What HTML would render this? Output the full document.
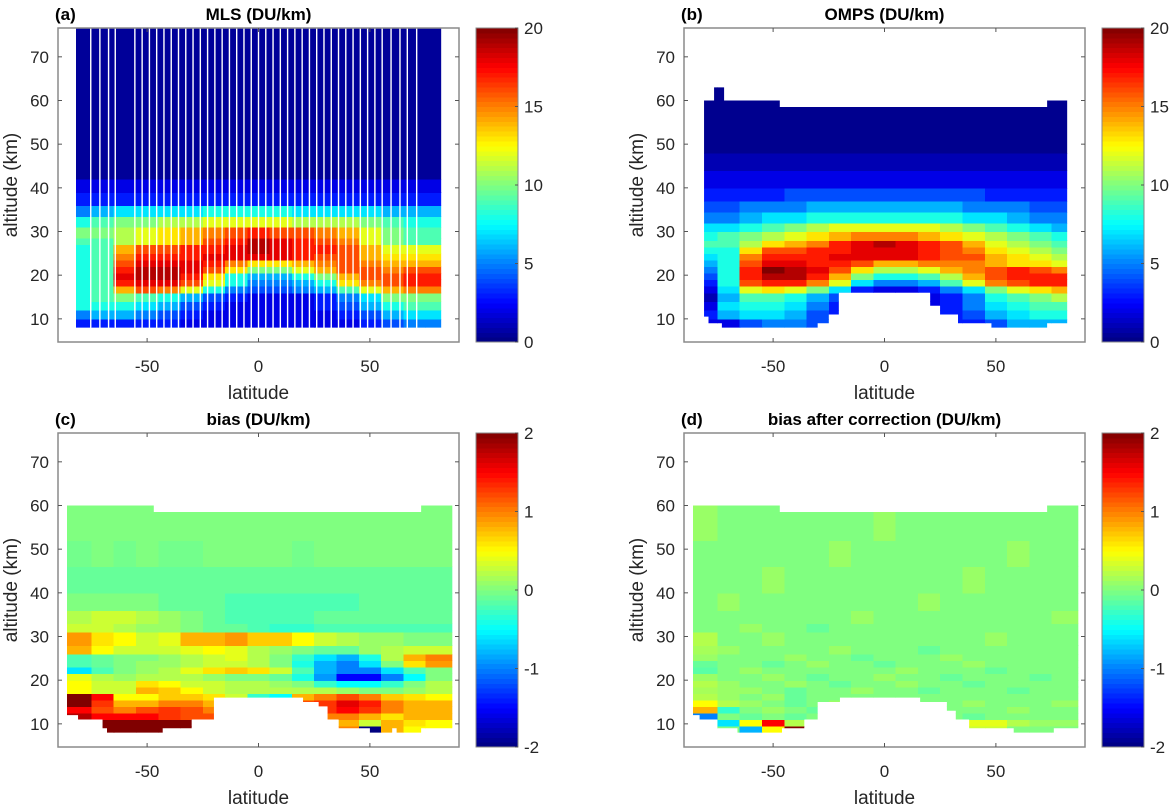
<!DOCTYPE html>
<html><head><meta charset="utf-8">
<style>
html,body{margin:0;padding:0;background:#fff;}
svg{display:block;font-family:"Liberation Sans",Arial,sans-serif;}
.tk{font-size:17px;fill:#262626;}
.ttl{font-size:17px;font-weight:bold;fill:#000;}
.lab{font-size:19px;fill:#262626;}
</style></head>
<body>
<svg id="fig" width="1172" height="807" viewBox="0 0 1172 807" xmlns="http://www.w3.org/2000/svg"></svg>
<script>
// ---------- data ----------
const latCenters=[-80,-70,-60,-50,-40,-30,-20,-10,0,10,20,30,40,50,60,70,80];
const xTicks=[-50,0,50];
const yTicks=[10,20,30,40,50,60,70];
const cbTicksA=[0,5,10,15,20];
const cbTicksC=[-2,-1,0,1,2];

const aAltEdges=[8,10,12,14,16,17.5,19,20.5,22,23.5,25,27,28.5,31,33.5,36,39,42,77];
const aValues=[
[3,3,3,3,3,2,2,2,2,2,2,2,2,3,4,5,5],
[5,6,6,5,4,3,2,2,2,2,2,2,3,4,6,7,7],
[8,8,8,7,6,4,3,2,2,2,2,3,4,6,8,9,9],
[8,9,10,9,8,6,4,3,2,2,2,3,5,7,10,10,10],
[8,9,14,16,15,12,8,5,4,4,5,6,9,12,14,15,15],
[8,9,17,18,18,16,12,8,5,5,6,8,13,15,16,17,17],
[8,9,18,19,19,17,13,8,6,6,8,10,14,16,16,17,17],
[8,9,17,19,19,18,16,13,10,10,12,14,16,16,15,16,16],
[8,9,16,18,18,18,17,15,13,13,14,15,16,15,14,14,14],
[8,9,15,17,17,17,18,18,18,18,17,16,16,14,13,13,13],
[8,9,14,16,16,17,17,18,19,18,17,17,16,14,12,12,12],
[9,9,11,12,13,14,16,17,19,18,17,16,15,12,10,9,9],
[10,10,11,12,13,14,15,16,17,16,16,15,14,12,10,9,9],
[8,9,10,10,11,11,12,12,12,12,11,11,11,10,9,8,8],
[5,6,7,7,7,7,8,8,8,8,7,7,7,7,6,6,6],
[3,3,3,3,3,3,3,3,3,3,3,3,3,3,3,3,3],
[2,2,2,2,2,2,2,2,2,2,2,2,2,2,2,2,2],
[0.5,0.5,0.5,0.5,0.5,0.5,0.5,0.5,0.5,0.5,0.5,0.5,0.5,0.5,0.5,0.5,0.5]];
const mlsGapLeft=[-75.3,-71.2,-67.3,-64.3];
const mlsGapRight=[59.5,63.5,66.8,71];

const bAltEdges=[7,10,12,14,16,17.5,19,20.5,22,23.5,25,26.5,28,30,32,34.5,37,40,44,48,64];
const bValues=[
[2,2,4,5,5,4,3,2,2,2,2,3,3,4,6,6,6],
[3,6,7,7,6,4,3,2,2,2,2,3,4,6,7,8,8],
[2,7,8,8,7,5,3,2,2,2,2,3,5,7,8,9,9],
[1,6,9,9,8,6,4,2,2,2,2,3,5,8,9,10,11],
[2,7,12,13,12,10,7,3,2,2,3,5,7,10,12,13,14],
[3,8,16,17,17,15,12,7,5,5,6,9,12,15,16,17,17],
[4,8,17,19,19,17,14,10,8,8,9,11,14,16,17,17,17],
[5,8,17,20,19,18,16,13,11,11,12,14,15,16,17,16,15],
[6,8,16,18,18,17,17,16,14,14,15,15,15,14,13,13,12],
[7,8,15,17,17,17,18,18,18,18,17,16,16,14,13,12,11],
[8,8,13,16,16,17,17,18,18,18,17,16,15,13,12,11,10],
[9,9,11,13,14,15,17,18,19,18,17,16,14,12,11,10,9],
[8,9,10,11,12,13,14,15,15,15,14,13,12,11,10,9,8],
[7,7,8,9,10,11,12,12,12,12,12,11,10,9,8,7,6],
[5,5,6,7,7,8,8,8,8,8,8,8,7,7,6,5,5],
[4,4,5,5,5,6,6,6,6,6,6,6,5,5,5,4,4],
[3,3,3,3,4,4,4,4,4,4,4,4,4,3,3,3,3],
[2,2,2,2,2,2,2,2,2,2,2,2,2,2,2,2,2],
[1,1,1,1,1,1,1,1,1,1,1,1,1,1,1,1,1],
[0.3,0.3,0.3,0.3,0.3,0.3,0.3,0.3,0.3,0.3,0.3,0.3,0.3,0.3,0.3,0.3,0.3]];
const bTopLat=[-81,-76.5,-72,-47,73,82];
const bTopAlt=[60,63,60,58.5,60];
const bBotLat=[-81,-79,-73,-30,-25,-20.5,20.5,25,33,48,73,82];
const bBotAlt=[10.5,9,8,9,11,16,13,11,9,8,9];

const cAltEdges=[8,9.5,11,12.5,14,15.5,17,18.5,20,21.5,23,24.5,26,28,31,33,36,40,46,52,61];
const cValues=[
[2,2,2,2,2,2,2,1.5,1.5,1.5,1,1,1,-2,0.8,0.5,0.5],
[2,2,2,2,2,2,2,0.8,0.5,0.5,0.5,1,0.8,0.3,0.8,0.6,0.5],
[1.8,1.5,1.5,1.5,1.3,1.2,1.2,0.8,0.5,0.5,0.6,1,1.0,0.8,0.6,0.8,0.8],
[1.5,1.2,1.0,1.2,1.3,1.2,1.0,0.5,0.3,0.5,1.2,1.3,1.5,1.3,1.0,0.8,0.8],
[2,1.3,0.8,0.8,1.0,1.0,0.8,0.3,0.2,0.4,1.2,1.3,1.6,1.4,1.0,0.8,0.8],
[2,1.5,0.5,0.5,0.7,0.7,0.6,0.3,-0.3,-0.5,0.8,1.0,1.2,1.0,0.7,0.6,0.5],
[0.5,0.3,0.3,0.8,0.7,0.5,0.3,0.2,0.2,0.2,0.2,0.2,0.1,0,0,0.1,0.2],
[0.5,0.3,0.3,0.6,0.5,0.3,0.3,0.2,0.2,0.1,0,-0.3,-0.5,-0.5,-0.3,0,0.2],
[0.4,0.2,0.1,0.2,0.2,0.2,0.1,0,0,-0.1,-0.4,-0.9,-1.5,-1.5,-1,-0.5,0],
[-0.6,-0.2,0,0.1,0.2,0.4,0.6,0.7,0.6,0.3,-0.2,-0.8,-1.0,-1.0,-0.6,-0.2,0],
[-0.2,-0.1,0,0.1,0.1,0.2,0.3,0.3,0.2,0,-0.4,-0.8,-1.0,-0.6,0,0.6,0.9],
[-0.2,-0.1,0,0,0.1,0.2,0.3,0.4,0.2,0,-0.3,-0.6,-0.8,-0.4,0.2,0.8,1.0],
[0.8,0.5,0.3,0.3,0.3,0.4,0.5,0.4,0.2,0.1,0,-0.1,-0.1,0.1,0.2,0.3,0.3],
[0.9,0.6,0.5,0.3,0.4,0.8,0.8,0.9,0.7,0.7,0.5,0.3,0.2,0.1,0.1,0,0],
[0.3,0.3,0.2,0.1,0.1,0,-0.1,-0.1,-0.2,-0.3,-0.3,-0.2,-0.2,-0.2,-0.2,-0.2,-0.2],
[0.2,0.3,0.3,0.2,0.1,0,-0.1,-0.2,-0.2,-0.2,-0.2,-0.1,-0.1,-0.1,-0.1,-0.1,-0.1],
[0,0,0,0,-0.1,-0.1,-0.1,-0.2,-0.2,-0.2,-0.2,-0.2,-0.2,-0.1,-0.1,-0.1,-0.1],
[-0.1,-0.1,-0.1,-0.1,-0.1,-0.1,-0.1,-0.1,-0.1,-0.1,-0.1,-0.1,-0.1,-0.1,-0.1,-0.1,-0.1],
[-0.05,0,-0.05,0,-0.05,-0.05,0,0,0,0,-0.05,0,0,0,0,0,0],
[0,0,0,0,0,0,0,0,0,0,0,0,0,0,0,0,0]];
const dValues=[
[0,0,-0.8,0.5,2,0,0,0,0,0,0,0,0.3,0.3,0,0,0],
[0,-0.6,0.5,1.5,0.2,0,0,0,0,0,0,1.5,0.4,0.4,0.2,0.1,0.1],
[-1.0,0,-0.1,0,-0.1,0,-0.1,0,0,0,0,0,-0.1,0,0,0,0],
[0.8,-0.3,0,0.1,0,-0.1,0,0,0,0,-0.1,0,0,0,0.1,0,0],
[0.5,0.2,0.1,0,-0.1,0,0.1,0,0,0,0,0,0.1,0,0,0,0.1],
[0.2,0.1,0,0.1,-0.1,0,0,0,0,0,0,0,0,0,0,0,0],
[0.15,0.1,0.1,0,-0.1,0,0,0.1,0,0,-0.1,0,0,0,-0.1,0,0],
[0.2,0.1,0,0,0.1,0,-0.1,0,0,0.1,0,0,-0.1,0,0,0,0],
[0.1,0,0,0.1,0,-0.1,0,0,0.1,0,0,-0.1,0,0,0,-0.1,0],
[-0.15,0,0.1,0,0,0,0,0,0,0.1,0,0,0,-0.1,0,0,0],
[-0.1,0,0,-0.1,0,0.1,0,0,-0.1,0,0,0,0.1,0,0,0,0],
[0.1,0,0,0,0.1,0,0,-0.1,0,0,0,0.1,0,0,0,0,0],
[0.15,0.1,0,0,0,0,0.1,0,0,0,-0.1,0,0,0,0,0,0],
[0.2,0,0,0.1,0,0,0,0,0,0,0,0,0,0.1,0,0,0],
[0,0,0.1,0,0,-0.1,0,0,0,0,0,0,0,0,0,0,0],
[0,0,0,0,0,0,0,0.1,0,0,0,0,0,0,0,0,0.1],
[0,0.1,0,0,0,0,0,0,0,0,0.1,0,0,0,0,0,0],
[0,0,0,0.1,0,0,0,0,0,0,0,0,0.1,0,0,0,0],
[0,0,0,0,0,0,0.1,0,0,0,0,0,0,0,0.1,0,0],
[0.1,0,0,0,0,0,0,0,0.1,0,0,0,0,0,0,0,0]];
const cdTopLat=[-86,-47,73,87];
const cdTopAlt=[60,58.5,60];
const cBotLat=[-86,-81,-70,-68,-43,-30,-20,20,27,31,36,50,60,62,73,87];
const cBotAlt=[12,11,9,8,9,11,16,15,14,11,9,8,9,8,9];
const dBotLat=[-86,-83,-75,-66,-46,-36,-30,-20,16,28,32,38,58,76,87];
const dBotAlt=[12,11,9,8,9,11,15,16,15,13,11,9,8,9];

// ---------- drawing ----------
const NS='http://www.w3.org/2000/svg';
const svg=document.getElementById('fig');
const W=401,H=314,YMIN=4.7,YMAX=76.6;
function el(tag,attrs,parent){const e=document.createElementNS(NS,tag);for(const k in attrs)e.setAttribute(k,attrs[k]);(parent||svg).appendChild(e);return e;}
function jet(v){v=Math.max(0,Math.min(1,v));const c=t=>Math.round(255*Math.max(0,Math.min(1,1.5-Math.abs(t))));return `rgb(${c(4*v-3)},${c(4*v-2)},${c(4*v-1)})`;}
function mkX(x0){return lat=>x0+(lat+90)/180*W;}
function mkY(y0){return alt=>y0+H-(alt-YMIN)/(YMAX-YMIN)*H;}

function colEdges(lmin,lmax){const e=[lmin];for(let i=0;i<latCenters.length-1;i++)e.push((latCenters[i]+latCenters[i+1])/2);e.push(lmax);return e;}

function drawPanel(o){
  const g=el('g',{});
  
  
  const X=mkX(o.x0),Y=mkY(o.y0);
  const cid='clip-'+o.name;
  const cp=el('clipPath',{id:cid},g);
  let pts=[];
  for(let i=0;i<o.topAlt.length;i++){pts.push([X(o.topLat[i]),Y(o.topAlt[i])]);pts.push([X(o.topLat[i+1]),Y(o.topAlt[i])]);}
  const bp=[];
  for(let i=0;i<o.botAlt.length;i++){bp.push([X(o.botLat[i]),Y(o.botAlt[i])]);bp.push([X(o.botLat[i+1]),Y(o.botAlt[i])]);}
  pts=pts.concat(bp.reverse());
  el('polygon',{points:pts.map(p=>p.join(',')).join(' ')},cp);
  const clipBox=el('clipPath',{id:cid+'b'},g);
  el('rect',{x:o.x0,y:o.y0,width:W,height:H},clipBox);
  const outer=el('g',{'clip-path':`url(#${cid}b)`},g);
  const hm=el('g',{'clip-path':`url(#${cid})`,'shape-rendering':'crispEdges'},outer);
  
  
  const ce=colEdges(o.topLat[0],o.topLat[o.topLat.length-1]);
  for(let r=0;r<o.vals.length;r++){
    for(let c=0;c<latCenters.length;c++){
      const x1=X(ce[c]),x2=X(ce[c+1]),y1=Y(o.alt[r+1]),y2=Y(o.alt[r]);
      const rc=el('rect',{x:x1,y:y1,width:x2-x1+0.6,height:y2-y1+0.6,fill:jet((o.vals[r][c]-o.vmin)/(o.vmax-o.vmin))},hm);
      
      
    }
  }
  if(o.gaps){
    for(const lat of o.gaps){
      const ln=el('rect',{x:X(lat)-0.7,y:o.y0,width:1.4,height:H,fill:'#fff'},outer);
      
      
    }
  }
  const ax=el('rect',{x:o.x0,y:o.y0,width:W,height:H,fill:'none',stroke:'#8a8a8a','stroke-width':1.5},g);
  
  
  for(const t of xTicks){
    const x=X(t);
    el('line',{x1:x,x2:x,y1:o.y0+H,y2:o.y0+H-4,stroke:'#555','stroke-width':1},g);
    el('line',{x1:x,x2:x,y1:o.y0,y2:o.y0+4,stroke:'#555','stroke-width':1},g);
    const tx=el('text',{x:x,y:o.y0+H+30,'text-anchor':'middle',class:'tk'},g);tx.textContent=t;
    
    
  }
  for(const t of yTicks){
    const y=Y(t);
    el('line',{x1:o.x0,x2:o.x0+4,y1:y,y2:y,stroke:'#555','stroke-width':1},g);
    el('line',{x1:o.x0+W,x2:o.x0+W-4,y1:y,y2:y,stroke:'#555','stroke-width':1},g);
    const tx=el('text',{x:o.x0-9,y:y+6,'text-anchor':'end',class:'tk'},g);tx.textContent=t;
    
    
  }
  const xl=el('text',{x:o.x0+W/2,y:o.y0+H+57,'text-anchor':'middle',class:'lab'},g);xl.textContent='latitude';
  
  
  const yl=el('text',{x:0,y:0,'text-anchor':'middle',class:'lab',transform:`translate(${o.x0-41},${o.y0+H/2}) rotate(-90)`},g);yl.textContent='altitude (km)';
  
  
  const tl=el('text',{x:o.x0+W/2,y:o.y0-8,'text-anchor':'middle',class:'ttl'},g);tl.textContent=o.title;
  
  
  const lt=el('text',{x:o.x0-3,y:o.y0-8,class:'ttl'},g);lt.textContent=o.letter;
  
  
  const cb=el('g',{'shape-rendering':'crispEdges'},g);
  
  
  const cx=o.x0+W+17,cw=42,N=64;
  for(let i=0;i<N;i++){
    el('rect',{x:cx,y:o.y0+H-(i+1)*H/N,width:cw,height:H/N+0.6,fill:jet((i+0.5)/N)},cb);
  }
  el('rect',{x:cx,y:o.y0,width:cw,height:H,fill:'none',stroke:'#8a8a8a','stroke-width':1},g);
  for(const t of o.cbTicks){
    const y=o.y0+H-(t-o.vmin)/(o.vmax-o.vmin)*H;
    el('line',{x1:cx+cw,x2:cx+cw-3,y1:y,y2:y,stroke:'#555'},g);
    const tx=el('text',{x:cx+cw+6,y:y+6,class:'tk'},g);tx.textContent=t;
    
    
  }
}

const midGaps=[];for(let l=-55.5;l<=55.6;l+=3.265)midGaps.push(l);
drawPanel({name:'mls',letter:'(a)',title:'MLS (DU/km)',x0:58,y0:28,alt:aAltEdges,vals:aValues,vmin:0,vmax:20,cbTicks:cbTicksA,
  topLat:[-82,82],topAlt:[77],botLat:[-82,82],botAlt:[8],gaps:mlsGapLeft.concat(midGaps,mlsGapRight)});
drawPanel({name:'omps',letter:'(b)',title:'OMPS (DU/km)',x0:684,y0:28,alt:bAltEdges,vals:bValues,vmin:0,vmax:20,cbTicks:cbTicksA,
  topLat:bTopLat,topAlt:bTopAlt,botLat:bBotLat,botAlt:bBotAlt});
drawPanel({name:'bias',letter:'(c)',title:'bias (DU/km)',x0:58,y0:433,alt:cAltEdges,vals:cValues,vmin:-2,vmax:2,cbTicks:cbTicksC,
  topLat:cdTopLat,topAlt:cdTopAlt,botLat:cBotLat,botAlt:cBotAlt});
drawPanel({name:'bias-corrected',letter:'(d)',title:'bias after correction (DU/km)',x0:684,y0:433,alt:cAltEdges,vals:dValues,vmin:-2,vmax:2,cbTicks:cbTicksC,
  topLat:cdTopLat,topAlt:cdTopAlt,botLat:dBotLat,botAlt:dBotAlt});
</script>
</body></html>
